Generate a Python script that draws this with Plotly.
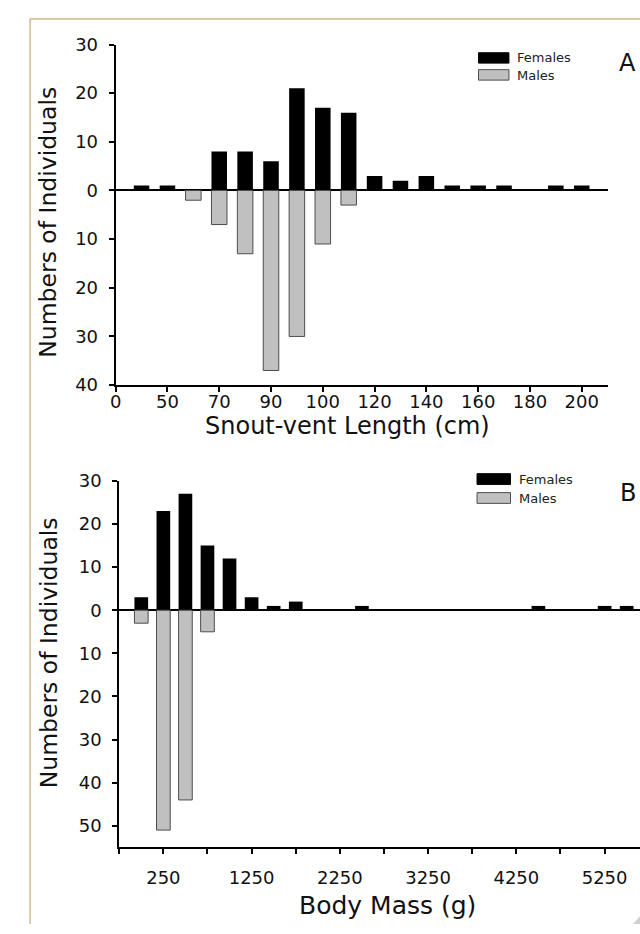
import plotly.graph_objects as go

# ---------------- data ----------------
# Panel A: snout-vent length bins (bin index along axis) and counts
svl_bins = list(range(1, 19))
svl_females = [1, 1, 0, 8, 8, 6, 21, 17, 16, 3, 2, 3, 1, 1, 1, 0, 1, 1]
svl_males = [0, 0, 2, 7, 13, 37, 30, 11, 3, 0, 0, 0, 0, 0, 0, 0, 0, 0]
svl_tick_pos = [0, 2, 4, 6, 8, 10, 12, 14, 16, 18]
svl_tick_labels = ["0", "50", "70", "90", "100", "120", "140", "160", "180", "200"]

# Panel B: body mass bins (g) and counts
mass_bins = [0, 250, 500, 750, 1000, 1250, 1500, 1750, 2500, 4500, 5250, 5500]
mass_females = [3, 23, 27, 15, 12, 3, 1, 2, 1, 1, 1, 1]
mass_males = [3, 51, 44, 5, 0, 0, 0, 0, 0, 0, 0, 0]
mass_tick_pos = [-250, 250, 750, 1250, 1750, 2250, 2750, 3250, 3750, 4250, 4750, 5250]
mass_tick_labels = ["", "250", "", "1250", "", "2250", "", "3250", "", "4250", "", "5250"]

ya_ticks = [-40, -30, -20, -10, 0, 10, 20, 30]
yb_ticks = [-50, -40, -30, -20, -10, 0, 10, 20, 30]

# ---------------- helpers ----------------
W, H = 640, 934
FONT = "DejaVu Sans"
FEM = "#000000"
MALE = "#c0c0c0"
MALE_LINE = "#4d4d4d"
BORDER = "#c8a877"


def px(x):
    return x / W


def py(y):
    return 1 - y / H


fig = go.Figure()

# Panel A bars
fx = [b for b, v in zip(svl_bins, svl_females) if v]
fy = [v for v in svl_females if v]
mx = [b for b, v in zip(svl_bins, svl_males) if v]
my = [-v for v in svl_males if v]
fig.add_trace(go.Bar(x=fx, y=fy, width=0.6, marker=dict(color=FEM, line=dict(color=FEM, width=0)),
                     xaxis="x", yaxis="y", showlegend=False))
fig.add_trace(go.Bar(x=mx, y=my, width=0.6, marker=dict(color=MALE, line=dict(color=MALE_LINE, width=1)),
                     xaxis="x", yaxis="y", showlegend=False))

# Panel B bars
fx2 = [b for b, v in zip(mass_bins, mass_females) if v]
fy2 = [v for v in mass_females if v]
mx2 = [b for b, v in zip(mass_bins, mass_males) if v]
my2 = [-v for v in mass_males if v]
fig.add_trace(go.Bar(x=fx2, y=fy2, width=155, marker=dict(color=FEM, line=dict(color=FEM, width=0)),
                     xaxis="x2", yaxis="y2", showlegend=False))
fig.add_trace(go.Bar(x=mx2, y=my2, width=155, marker=dict(color=MALE, line=dict(color=MALE_LINE, width=1)),
                     xaxis="x2", yaxis="y2", showlegend=False))

axis_common = dict(showline=True, linecolor="black", linewidth=2, ticks="outside", ticklen=5,
                   tickwidth=1.5, tickcolor="black", showgrid=False,
                   tickfont=dict(family=FONT, size=18, color="#111111"))

fig.update_layout(
    width=W, height=H, margin=dict(l=0, r=0, t=0, b=0),
    paper_bgcolor="white", plot_bgcolor="rgba(0,0,0,0)",
    barmode="overlay", showlegend=False,
    xaxis=dict(domain=[px(110.7), px(607.3)], range=[0, 19], tickvals=svl_tick_pos,
               ticktext=svl_tick_labels, zeroline=False, anchor="y", ticklabelstandoff=-6,
               **axis_common),
    yaxis=dict(domain=[py(382.7), py(34.3)], range=[-40, 30], tickvals=ya_ticks,
               ticktext=[str(abs(v)) for v in ya_ticks], zeroline=True, zerolinecolor="black",
               zerolinewidth=1.5, anchor="x", ticklabelstandoff=7, **axis_common),
    xaxis2=dict(domain=[px(114.3), 1.0], range=[-250, 5651], tickvals=mass_tick_pos,
                ticktext=mass_tick_labels, zeroline=False, anchor="y2", ticklabelstandoff=8,
                **axis_common),
    yaxis2=dict(domain=[py(855.6), py(480.7)], range=[-55, 30], tickvals=yb_ticks,
                ticktext=[str(abs(v)) for v in yb_ticks], zeroline=True, zerolinecolor="black",
                zerolinewidth=2, anchor="x2", ticklabelstandoff=7, **axis_common),
)

shapes = []
annotations = []

# frame lines (tan)
shapes.append(dict(type="line", xref="paper", yref="paper", x0=px(24.3), x1=px(24.3), y0=py(8), y1=0,
                   line=dict(color=BORDER, width=1.2)))
shapes.append(dict(type="line", xref="paper", yref="paper", x0=px(24.3), x1=1, y0=py(8), y1=py(8),
                   line=dict(color=BORDER, width=1.2)))
# small page-curl wedge bottom right
shapes.append(dict(type="path", xref="paper", yref="paper",
                   path=f"M {px(633)},{py(934)} L {px(640)},{py(926)} L {px(640)},{py(934)} Z",
                   fillcolor="#d0d0d0", line=dict(width=0)))


def legend(x0, x1, fy0, fy1, my0, my1, tx, fty, mty):
    shapes.append(dict(type="rect", xref="paper", yref="paper", x0=px(x0), x1=px(x1), y0=py(fy1), y1=py(fy0),
                       fillcolor=FEM, line=dict(color=FEM, width=1)))
    shapes.append(dict(type="rect", xref="paper", yref="paper", x0=px(x0), x1=px(x1), y0=py(my1), y1=py(my0),
                       fillcolor=MALE, line=dict(color=MALE_LINE, width=1)))
    annotations.append(dict(text="Females", xref="paper", yref="paper", x=px(tx), y=py(fty), xanchor="left",
                            yanchor="middle", showarrow=False, font=dict(family=FONT, size=13, color="#222")))
    annotations.append(dict(text="Males", xref="paper", yref="paper", x=px(tx), y=py(mty), xanchor="left",
                            yanchor="middle", showarrow=False, font=dict(family=FONT, size=13, color="#222")))


legend(477, 507.7, 42.7, 53.3, 60, 70.7, 514, 47.7, 65.7)
legend(475.5, 509.3, 473.3, 484.3, 492.7, 503.7, 515.5, 479.3, 498.3)

# panel letters
annotations.append(dict(text="A", xref="paper", yref="paper", x=px(627), y=py(53.3), xanchor="center",
                        yanchor="middle", showarrow=False, font=dict(family=FONT, size=24, color="#111")))
annotations.append(dict(text="B", xref="paper", yref="paper", x=px(628), y=py(492.7), xanchor="center",
                        yanchor="middle", showarrow=False, font=dict(family=FONT, size=24, color="#111")))

# axis titles
annotations.append(dict(text="Snout-vent Length (cm)", xref="paper", yref="paper", x=px(345), y=py(425),
                        xanchor="center", yanchor="middle", showarrow=False,
                        font=dict(family=FONT, size=24, color="#111")))
annotations.append(dict(text="Body Mass (g)", xref="paper", yref="paper", x=px(385.5), y=py(915),
                        xanchor="center", yanchor="middle", showarrow=False,
                        font=dict(family=FONT, size=25, color="#111")))
annotations.append(dict(text="Numbers of Individuals", xref="paper", yref="paper", x=px(43), y=py(216),
                        xanchor="center", yanchor="middle", textangle=-90, showarrow=False,
                        font=dict(family=FONT, size=23.5, color="#111")))
annotations.append(dict(text="Numbers of Individuals", xref="paper", yref="paper", x=px(43), y=py(656.5),
                        xanchor="center", yanchor="middle", textangle=-90, showarrow=False,
                        font=dict(family=FONT, size=23.5, color="#111")))

fig.update_layout(shapes=shapes, annotations=annotations)

fig.write_html("out.html")
